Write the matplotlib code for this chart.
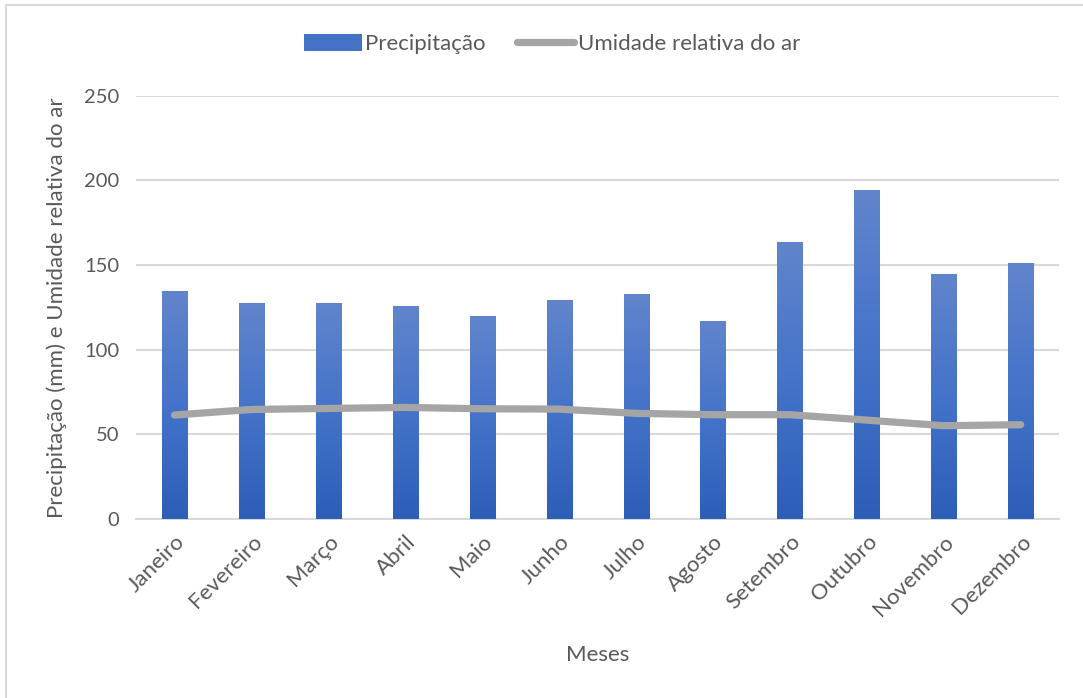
import matplotlib
matplotlib.use("Agg")
import matplotlib.pyplot as plt
import numpy as np
from matplotlib.patches import Rectangle
from matplotlib.lines import Line2D
from matplotlib.colors import LinearSegmentedColormap

months = ["Janeiro", "Fevereiro", "Março", "Abril", "Maio", "Junho", "Julho",
          "Agosto", "Setembro", "Outubro", "Novembro", "Dezembro"]
precipitacao = [134.6, 127.5, 127.5, 125.7, 119.8, 129.3, 132.8, 116.9, 163.5, 194.2, 144.6, 151.1]
umidade = [61.4, 64.7, 65.3, 65.9, 65.1, 64.9, 62.4, 61.6, 61.6, 58.4, 55.1, 55.7]
yticks = [0, 50, 100, 150, 200, 250]

plt.rcParams['font.family'] = ['Lato', 'DejaVu Sans']
txt = '#595959'

fig = plt.figure(figsize=(10.83, 6.98), dpi=100)
ax = fig.add_axes([0.1256, 0.2564, 0.8524, 0.6066])

x = np.arange(len(months))
bars = ax.bar(x, precipitacao, width=0.325, color='#4472C4', zorder=3, label='Precipitação')
cmap = LinearSegmentedColormap.from_list('g', ['#2d5eb8', '#4473c9', '#6185cc'])
grad = np.linspace(0, 1, 256).reshape(-1, 1)
for b in bars:
    x0, y0 = b.get_x(), b.get_y()
    w, h = b.get_width(), b.get_height()
    im = ax.imshow(grad, cmap=cmap, extent=[x0, x0 + w, y0, y0 + h], origin='lower',
                   aspect='auto', zorder=3.1, interpolation='bilinear')
    im.set_clip_path(b)

ax.plot(x, umidade, color='#a5a5a5', lw=5.2, solid_capstyle='round',
        solid_joinstyle='round', zorder=4, label='Umidade relativa do ar')

ax.set_xlim(-0.5, len(months) - 0.5)
ax.set_ylim(0, 250)
ax.set_yticks(yticks)
ax.set_yticklabels([str(v) for v in yticks], fontsize=14.5, color=txt)
ax.set_xticks(x)
ax.set_xticklabels(months, rotation=45, ha='right', rotation_mode='anchor',
                   fontsize=16, color=txt)
ax.tick_params(axis='y', length=0, pad=12)
ax.tick_params(axis='x', length=0, pad=9)
ax.grid(axis='y', color='#d9d9d9', lw=1.5, zorder=0)
ax.set_axisbelow(True)
for s in ['top', 'right', 'left']:
    ax.spines[s].set_visible(False)
ax.spines['bottom'].set_color('#d9d9d9')
ax.spines['bottom'].set_linewidth(1.5)

ax.set_ylabel('Precipitação (mm) e Umidade relativa do ar', fontsize=16, color=txt, labelpad=12)
fig.text(598 / 1083, 1 - 655 / 698, 'Meses', fontsize=16, color=txt, ha='center', va='center')

handles = [Rectangle((0, 0), 1, 1, facecolor='#4472C4'),
           Line2D([], [], color='#a5a5a5', lw=5.2, solid_capstyle='round')]
fig.legend(handles, ['Precipitação', 'Umidade relativa do ar'], loc='center',
           bbox_to_anchor=(552 / 1083, 1 - 44 / 698), ncol=2, frameon=False,
           fontsize=16, labelcolor=txt, handlelength=2.6, handleheight=0.8,
           handletextpad=0.15, columnspacing=1.4)

# chart frame
fig.patches.append(Rectangle((6 / 1083, -0.05), 1.1, 1 - 5 / 698 + 0.05,
                             transform=fig.transFigure, fill=False,
                             edgecolor='#d9d9d9', lw=1.5))

fig.savefig('out.png', dpi=100)
